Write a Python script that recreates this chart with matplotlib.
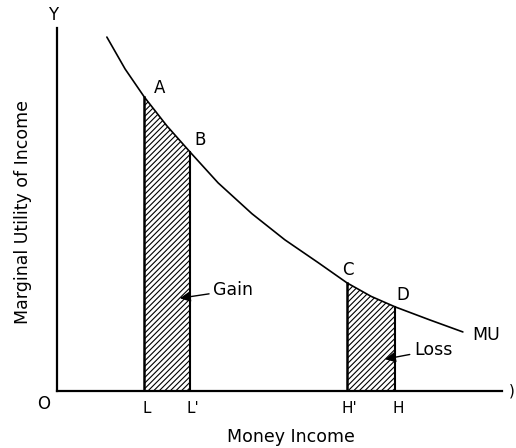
import numpy as np
import matplotlib
matplotlib.use("Agg")
import matplotlib.pyplot as plt

plt.rcParams['font.family'] = ['DejaVu Sans']
plt.rcParams['hatch.linewidth'] = 0.8

# MU curve (income, marginal utility)
mu_x = [11.2, 15.3, 19.6, 24.7, 29.9, 36.2, 43.8, 51.2, 58.7, 65.2, 70.6, 76.0, 83.8, 91.2]
mu_y = [97.5, 88.7, 81.0, 73.0, 65.8, 57.3, 48.8, 41.6, 35.3, 29.7, 26.0, 23.1, 19.5, 16.2]

# income levels marked on the x axis
income_ticks = [19.6, 29.9, 65.2, 76.0]
income_labels = ["L", "L'", "H'", "H"]

# points on the curve
point_names = ["A", "B", "C", "D"]


def shade(ax, x, y, x0, x1):
    x = np.array(x)
    y = np.array(y)
    m = (x >= x0) & (x <= x1)
    ax.fill_between(x[m], 0, y[m], facecolor="white", edgecolor="black",
                    hatch="//////", linewidth=0)
    ax.plot([x0, x0], [0, y[x == x0][0]], color="black", lw=1.8)
    ax.plot([x1, x1], [0, y[x == x1][0]], color="black", lw=1.5)


fig = plt.figure(figsize=(5.16, 4.48), dpi=100)
ax = fig.add_axes([0.1105, 0.1279, 0.8624, 0.8096])
ax.set_xlim(0, 100)
ax.set_ylim(0, 100)
for s in ["top", "right"]:
    ax.spines[s].set_visible(False)
ax.spines["left"].set_linewidth(1.6)
ax.spines["bottom"].set_linewidth(1.6)
ax.set_xticks([])
ax.set_yticks([])

ax.plot(mu_x, mu_y, color="black", lw=1.2, solid_capstyle="round",
        solid_joinstyle="round")

shade(ax, mu_x, mu_y, income_ticks[0], income_ticks[1])
shade(ax, mu_x, mu_y, income_ticks[2], income_ticks[3])

for xt, lab in zip(income_ticks, income_labels):
    ax.text(xt + 0.6, -4.8, lab, ha="center", va="center", fontsize=11, clip_on=False)

pts = [(23.1, 83.5), (32.1, 69.1), (65.4, 33.2), (77.8, 26.4)]
for (px, py), name in zip(pts, point_names):
    ax.text(px, py, name, ha="center", va="center", fontsize=12)

ax.text(-0.9, 103.6, "Y", ha="center", va="center", fontsize=12, clip_on=False)
ax.text(-3.1, -3.6, "O", ha="center", va="center", fontsize=12, clip_on=False)
ax.text(102.2, 0.0, ")", ha="center", va="center", fontsize=11, clip_on=False)
ax.text(93.3, 15.4, "MU", ha="left", va="center", fontsize=12.5, clip_on=False)

ax.annotate("Gain", xy=(27.6, 25.5), xytext=(35.1, 27.7), fontsize=12.5,
            ha="left", va="center",
            arrowprops=dict(arrowstyle="-|>,head_length=0.5,head_width=0.25",
                            color="black", lw=1.0, shrinkA=1, shrinkB=0))
ax.annotate("Loss", xy=(73.7, 8.7), xytext=(80.2, 11.2), fontsize=12.5,
            ha="left", va="center",
            arrowprops=dict(arrowstyle="-|>,head_length=0.5,head_width=0.25",
                            color="black", lw=1.0, shrinkA=1, shrinkB=0))

ax.text(52.6, -12.8, "Money Income", ha="center", va="center", fontsize=12.5, clip_on=False)
ax.text(-7.6, 49.2, "Marginal Utility of Income", ha="center", va="center",
        rotation=90, fontsize=12.5, clip_on=False)

fig.savefig("out.png", dpi=100)
